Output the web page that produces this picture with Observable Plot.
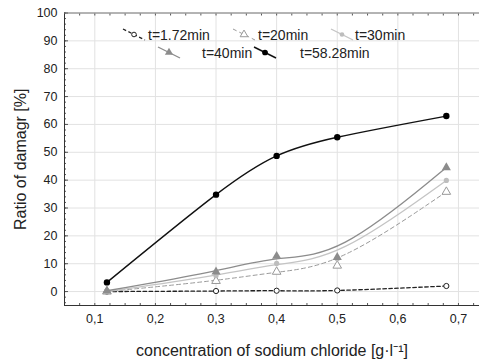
<!DOCTYPE html>
<html>
<head>
<meta charset="utf-8">
<script src="https://cdn.jsdelivr.net/npm/d3@7"></script>
<script src="https://cdn.jsdelivr.net/npm/@observablehq/plot@0.6"></script>
<style>
  body { margin: 0; background: #fff; }
  svg { display: block; }
</style>
</head>
<body>
<div id="chart"></div>
<script>
// Salt concentration [g/l] at which damage was measured
const concentration = [0.12, 0.3, 0.4, 0.5, 0.68];

// Ratio of damage [%] for each exposure time
const damageT172 = [0, 0.2, 0.3, 0.4, 2.0];
const damageT20 = [0, 3.8, 7.1, 9.3, 35.8];
const damageT30 = [0, 5.7, 10.1, 11.8, 39.9];
const damageT40 = [0.3, 7.1, 12.7, 12.3, 44.5];
const damageT5828 = [3.3, 34.8, 48.7, 55.4, 63.0];

const seriesLabels = ["t=1.72min", "t=20min", "t=30min", "t=40min", "t=58.28min"];

// Axis ticks
const xTicks = [0.1, 0.2, 0.3, 0.4, 0.5, 0.6, 0.7];
const yTicks = [0, 10, 20, 30, 40, 50, 60, 70, 80, 90, 100];
const xMinorTicks = d3.range(0.05, 0.736, 0.025);
const yMinorTicks = d3.range(-4, 101, 2);

const seriesValues = [damageT172, damageT20, damageT30, damageT40, damageT5828];

const styles = [
  {stroke: "#222", dash: "3.5,2.5", width: 1.3, curve: "natural", symbol: "circle", fill: "white", dotStroke: "#222", r: 2.6},
  {stroke: "#9a9a9a", dash: "4,3", width: 1, curve: "basis", symbol: "triangle", fill: "white", dotStroke: "#999", r: 3.2},
  {stroke: "#c4c4c4", dash: null, width: 1.3, curve: "basis", symbol: "circle", fill: "#bdbdbd", dotStroke: "none", r: 2.6},
  {stroke: "#8c8c8c", dash: null, width: 1.3, curve: "basis", symbol: "triangle", fill: "#8c8c8c", dotStroke: "none", r: 3.4},
  {stroke: "#111", dash: null, width: 1.4, curve: "natural", symbol: "circle", fill: "#000", dotStroke: "none", r: 3.2}
];

const rows = seriesValues.flatMap((vals, i) =>
  vals.map((v, j) => ({series: seriesLabels[i], x: concentration[j], y: v}))
);

const fmtX = d => d.toFixed(1).replace(".", ",");

const seriesMarks = seriesLabels.flatMap((name, i) => {
  const s = styles[i];
  const d = rows.filter(r => r.series === name);
  return [
    Plot.line(d, {x: "x", y: "y", curve: s.curve, stroke: s.stroke, strokeWidth: s.width, strokeDasharray: s.dash}),
    Plot.dot(d, {x: "x", y: "y", symbol: s.symbol, r: s.r, fill: s.fill, stroke: s.dotStroke, strokeWidth: 1})
  ];
});

const chart = Plot.plot({
  width: 479,
  height: 360,
  marginLeft: 64,
  marginRight: 0,
  marginTop: 12.5,
  marginBottom: 55,
  style: {fontFamily: "'Liberation Sans', Arial, sans-serif", background: "#fff", color: "#222"},
  x: {domain: [0.05, 0.7347]},
  y: {domain: [-5, 100]},
  marks: [
    Plot.gridX(xTicks, {stroke: "#e2e2e2", strokeOpacity: 1}),
    Plot.gridY(yTicks, {stroke: "#e2e2e2", strokeOpacity: 1}),
    Plot.axisY(yMinorTicks, {tickSize: -2, tickFormat: () => "", label: null, stroke: "#555"}),
    Plot.axisY(yTicks, {tickSize: -4, tickPadding: 11, fontSize: 12.5, label: "Ratio of damagr [%]",
      labelAnchor: "center", labelOffset: 50, labelArrow: false, stroke: "#555"}),
    Plot.axisX(xMinorTicks, {tickSize: -2, tickFormat: () => "", label: null, stroke: "#555"}),
    Plot.axisX(xMinorTicks, {anchor: "top", tickSize: -2, tickFormat: () => "", label: null, stroke: "#555"}),
    Plot.axisX(xTicks, {tickSize: 0, tickPadding: 9, fontSize: 12.5, tickFormat: fmtX,
      label: "concentration of sodium chloride [g·l⁻¹]", labelAnchor: "center", labelOffset: 50, labelArrow: false}),
    Plot.frame({anchor: "left", stroke: "#333"}),
    Plot.frame({anchor: "bottom", stroke: "#333"}),
    Plot.frame({anchor: "top", stroke: "#777"}),
    ...seriesMarks
  ]
});

const svg = d3.select(chart);
svg.selectAll('g[aria-label="y-axis label"] text, g[aria-label="x-axis label"] text').attr("font-size", 16);

// Legend inside the plot area, two rows of sample + label
const legendPos = [
  {x: 123, y: 29, tx: 148},
  {x: 233, y: 29, tx: 258},
  {x: 331, y: 29, tx: 355},
  {x: 158, y: 47, tx: 202},
  {x: 254, y: 47, tx: 300}
];
const legend = svg.append("g").attr("font-size", 14).attr("fill", "#222").attr("text-anchor", "start");
seriesLabels.forEach((name, i) => {
  const s = styles[i], p = legendPos[i];
  const g = legend.append("g");
  g.append("line")
    .attr("x1", p.x).attr("y1", p.y).attr("x2", p.x + 22).attr("y2", p.y + 11)
    .attr("stroke", s.stroke).attr("stroke-width", s.width)
    .attr("stroke-dasharray", s.dash);
  const sym = s.symbol === "triangle" ? d3.symbolTriangle : d3.symbolCircle;
  g.append("path")
    .attr("transform", `translate(${p.x + 11},${p.y + 5.5})`)
    .attr("d", d3.symbol(sym, Math.PI * s.r * s.r * 0.8)())
    .attr("fill", s.fill).attr("stroke", s.dotStroke);
  g.append("text").attr("x", p.tx).attr("y", p.y + 11).text(name);
});

document.getElementById("chart").appendChild(chart);
</script>
</body>
</html>
